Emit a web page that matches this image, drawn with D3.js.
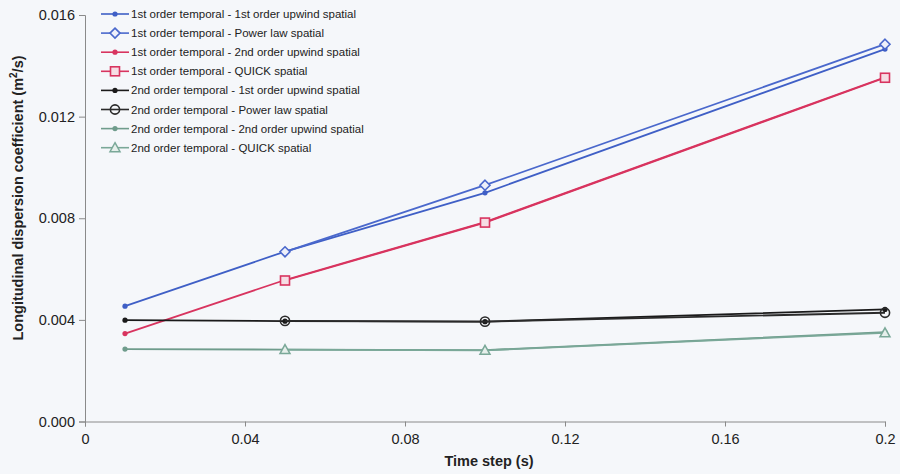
<!DOCTYPE html>
<html>
<head>
<meta charset="utf-8">
<script src="https://cdn.jsdelivr.net/npm/d3@7"></script>
<style>
  html, body { margin: 0; padding: 0; background: #f5f7fa; }
  svg { display: block; font-family: "Liberation Sans", Arial, sans-serif; }
</style>
</head>
<body>
<svg id="chart" width="900" height="474"></svg>
<script>
// Time steps (s)
const timeSteps = [0.01, 0.05, 0.1, 0.2];

// Longitudinal dispersion coefficient (m²/s) for each scheme combination
const t1Upwind1 = [0.00454, 0.00669, 0.00900, 0.01466];
const t1Power   = [null,    0.00668, 0.00930, 0.01485];
const t1Upwind2 = [0.00346, 0.00557, 0.00785, 0.01355];
const t1Quick   = [null,    0.00555, 0.00783, 0.01353];
const t2Upwind1 = [0.00399, 0.00395, 0.00393, 0.00441];
const t2Power   = [null,    0.00396, 0.00393, 0.00428];
const t2Upwind2 = [0.00285, 0.00283, 0.00281, 0.00352];
const t2Quick   = [null,    0.00283, 0.00280, 0.00349];

const seriesNames = [
  "1st order temporal - 1st order upwind spatial",
  "1st order temporal - Power law spatial",
  "1st order temporal - 2nd order upwind spatial",
  "1st order temporal - QUICK spatial",
  "2nd order temporal - 1st order upwind spatial",
  "2nd order temporal - Power law spatial",
  "2nd order temporal - 2nd order upwind spatial",
  "2nd order temporal - QUICK spatial"
];
const seriesValues = [t1Upwind1, t1Power, t1Upwind2, t1Quick, t2Upwind1, t2Power, t2Upwind2, t2Quick];

const xTicks = [0, 0.04, 0.08, 0.12, 0.16, 0.2];
const yTicks = [0, 0.004, 0.008, 0.012, 0.016];

const styles = [
  { color: "#3f5fc6", marker: "dot" },
  { color: "#4a68cc", marker: "diamond" },
  { color: "#d8345f", marker: "dot" },
  { color: "#d8345f", marker: "square" },
  { color: "#1a1a1a", marker: "dot" },
  { color: "#2a2a2a", marker: "circle" },
  { color: "#6f9c8c", marker: "dot" },
  { color: "#7aa898", marker: "triangle" }
];

const svg = d3.select("#chart");
const x = d3.scaleLinear().domain([0, 0.2]).range([85, 885]);
const y = d3.scaleLinear().domain([0, 0.016]).range([421.5, 15]);

const axisColor = "#8a8a8a";
const tickFont = 14.5;

// Y axis
const yAxis = svg.append("g")
  .attr("transform", `translate(${x(0)},0)`)
  .call(d3.axisLeft(y).tickValues(yTicks).tickFormat(d3.format(".3f")).tickSize(6).tickPadding(4));
yAxis.select(".domain").attr("stroke", axisColor);
yAxis.selectAll(".tick line").attr("stroke", axisColor);
yAxis.selectAll(".tick text").attr("font-size", tickFont).attr("fill", "#222")
  .attr("font-family", "Liberation Sans, Arial, sans-serif");

// X axis
const xAxis = svg.append("g")
  .attr("transform", `translate(0,${y(0)})`)
  .call(d3.axisBottom(x).tickValues(xTicks).tickFormat(d => d === 0 ? "0" : String(+d.toFixed(2))).tickSize(5).tickPadding(7));
xAxis.select(".domain").attr("stroke", axisColor);
xAxis.selectAll(".tick line").attr("stroke", axisColor);
xAxis.selectAll(".tick text").attr("font-size", tickFont).attr("fill", "#222")
  .attr("font-family", "Liberation Sans, Arial, sans-serif");

// Axis titles
svg.append("text")
  .attr("x", 489).attr("y", 466)
  .attr("text-anchor", "middle")
  .attr("font-size", 14.5).attr("font-weight", "bold").attr("fill", "#222")
  .text("Time step (s)");

const yTitle = svg.append("text")
  .attr("transform", `translate(23,198) rotate(-90)`)
  .attr("text-anchor", "middle")
  .attr("font-size", 14.5).attr("font-weight", "bold").attr("fill", "#222");
yTitle.append("tspan").text("Longitudinal dispersion coefficient (m");
yTitle.append("tspan").attr("font-size", 10).attr("dy", -6).text("2");
yTitle.append("tspan").attr("dy", 6).text("/s)");

// Marker drawing helper
function drawMarker(g, type, color, cx, cy) {
  if (type === "dot") {
    g.append("circle").attr("cx", cx).attr("cy", cy).attr("r", 2.6).attr("fill", color);
  } else if (type === "diamond") {
    const s = 5;
    g.append("path")
      .attr("d", `M${cx},${cy - s}L${cx + s},${cy}L${cx},${cy + s}L${cx - s},${cy}Z`)
      .attr("fill", "#eef0fa").attr("stroke", color).attr("stroke-width", 1.6);
  } else if (type === "square") {
    g.append("rect").attr("x", cx - 4.5).attr("y", cy - 4.5).attr("width", 9).attr("height", 9)
      .attr("fill", "#f6dde4").attr("stroke", color).attr("stroke-width", 1.6);
  } else if (type === "circle") {
    g.append("circle").attr("cx", cx).attr("cy", cy).attr("r", 4.6)
      .attr("fill", "none").attr("stroke", color).attr("stroke-width", 1.6);
  } else if (type === "triangle") {
    const s = 5;
    g.append("path")
      .attr("d", `M${cx},${cy - s}L${cx + s},${cy + s * 0.8}L${cx - s},${cy + s * 0.8}Z`)
      .attr("fill", "#e6efeb").attr("stroke", color).attr("stroke-width", 1.5);
  }
}

// Series lines and markers
const line = d3.line()
  .defined(d => d[1] !== null)
  .x(d => x(d[0]))
  .y(d => y(d[1]));

seriesValues.forEach((vals, i) => {
  const st = styles[i];
  const pts = timeSteps.map((t, j) => [t, vals[j]]).filter(d => d[1] !== null);
  const g = svg.append("g").attr("class", "series");
  g.append("path").datum(pts)
    .attr("d", line)
    .attr("fill", "none")
    .attr("stroke", st.color)
    .attr("stroke-width", 1.8);
  pts.forEach(d => drawMarker(g, st.marker, st.color, x(d[0]), y(d[1])));
});

// Legend
const legend = svg.append("g").attr("class", "legend");
seriesNames.forEach((name, i) => {
  const st = styles[i];
  const ly = 14 + i * 19.1;
  const row = legend.append("g");
  row.append("line").attr("x1", 101).attr("x2", 129).attr("y1", ly).attr("y2", ly)
    .attr("stroke", st.color).attr("stroke-width", 1.6);
  drawMarker(row, st.marker, st.color, 115, ly);
  row.append("text").attr("x", 131).attr("y", ly + 4)
    .attr("font-size", 11.5).attr("fill", "#222")
    .text(name);
});
</script>
</body>
</html>
